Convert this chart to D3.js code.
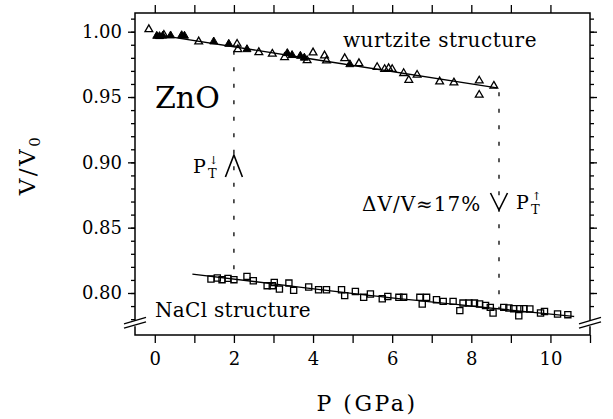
<!DOCTYPE html>
<html>
<head>
<meta charset="utf-8">
<script src="https://cdn.jsdelivr.net/npm/d3@7"></script>
<style>
  html, body { margin: 0; padding: 0; background: #fff; }
  svg { display: block; }
  text { font-family: "DejaVu Serif", serif; fill: #000; }
</style>
</head>
<body>
<svg width="613" height="419"></svg>
<script>
// wurtzite phase, open triangles [P (GPa), V/V0]
const wurtziteOpen = [
  [-0.15, 1.0018], [0.23, 0.9975], [1.11, 0.9924], [2.08, 0.9906], [2.10, 0.9865],
  [2.63, 0.9842], [2.97, 0.9830], [3.28, 0.9804], [3.85, 0.9780], [4.00, 0.9840],
  [4.29, 0.9817], [4.34, 0.9778], [4.80, 0.9796], [5.16, 0.9758], [5.62, 0.9728],
  [5.81, 0.9713], [5.91, 0.9720], [6.00, 0.9713], [6.29, 0.9682], [6.42, 0.9630],
  [6.63, 0.9669], [7.20, 0.9618], [7.56, 0.9610], [8.20, 0.9625], [8.20, 0.9516],
  [8.57, 0.9585]
];
// wurtzite phase, filled triangles
const wurtziteFilled = [
  [0.05, 0.9967], [0.12, 0.9965], [0.20, 0.9968], [0.40, 0.9970], [0.68, 0.9972],
  [0.75, 0.9968], [1.49, 0.9924], [1.87, 0.9906], [2.33, 0.9865], [3.35, 0.9835],
  [3.47, 0.9820], [3.68, 0.9814], [3.78, 0.9800], [4.93, 0.9750]
];
// rocksalt phase, open squares
const naclOpen = [
  [1.42, 0.8107], [1.58, 0.8115], [1.70, 0.8102], [1.85, 0.8112], [2.00, 0.8102],
  [2.33, 0.8127], [2.49, 0.8094], [2.84, 0.8056], [2.97, 0.8056], [3.02, 0.8081],
  [3.15, 0.8030], [3.39, 0.8076], [3.51, 0.8020], [3.89, 0.8046], [4.14, 0.8025],
  [4.34, 0.8025], [4.72, 0.8025], [4.80, 0.7980], [5.07, 0.8012], [5.28, 0.7967],
  [5.45, 0.7992], [5.75, 0.7956], [5.89, 0.7974], [6.17, 0.7967], [6.29, 0.7967],
  [6.70, 0.7967], [6.76, 0.7916], [6.87, 0.7967], [7.12, 0.7949], [7.29, 0.7936],
  [7.54, 0.7936], [7.71, 0.7865], [7.79, 0.7923], [7.94, 0.7923], [8.08, 0.7923],
  [8.21, 0.7916], [8.36, 0.7905], [8.48, 0.7890], [8.55, 0.7847], [8.82, 0.7890],
  [8.95, 0.7885], [9.07, 0.7880], [9.20, 0.7826], [9.22, 0.7880], [9.33, 0.7880],
  [9.48, 0.7878], [9.75, 0.7847], [9.85, 0.7859], [10.18, 0.7839], [10.44, 0.7834]
];
// fitted curves
const wurtziteFit = [[0.0, 0.9980], [4.0, 0.9789], [8.65, 0.9570]];
const naclFit = [[0.95, 0.8145], [3.0, 0.8070], [5.3, 0.7985], [8.0, 0.7900], [10.6, 0.7820]];
// transition pressures (down / up stroke)
const transitions = [2.0, 8.7];

const xLabels = [0, 2, 4, 6, 8, 10];
const yLabels = [0.80, 0.85, 0.90, 0.95, 1.00];

const svg = d3.select('svg');

const x = d3.scaleLinear().domain([-0.5, 11]).range([135, 590]);
const y = d3.scaleLinear().domain([0.80, 1.00]).range([293, 31.7]);

const x0 = x.range()[0], x1 = x.range()[1];
const frameTop = y(1.0143);
const breakY = y(0.7772);
const axisY = 335;

// frame (y axis is broken just above the P axis)
svg.append('path')
  .attr('d', `M${x0},${breakY - 2}V${frameTop}H${x1}V${breakY - 2}`)
  .attr('fill', 'none').attr('stroke', '#000').attr('stroke-width', 1.5);
svg.append('path')
  .attr('d', `M${x0},${breakY + 3.5}V${axisY}H${x1}V${breakY + 3.5}`)
  .attr('fill', 'none').attr('stroke', '#000').attr('stroke-width', 1.5);

// break marks
[x0, x1].forEach(cx => {
  [-2.2, 2.2].forEach(off => {
    svg.append('line')
      .attr('x1', cx - 11).attr('y1', breakY + off + 3.2)
      .attr('x2', cx + 11).attr('y2', breakY + off - 3.2)
      .attr('stroke', '#000').attr('stroke-width', 1.3);
  });
});

const yMinor = d3.range(78, 102).map(d => d / 100);
const styleAxis = g => {
  g.select('.domain').remove();
  g.selectAll('line').attr('stroke-width', 1.3);
  g.attr('font-family', '"DejaVu Serif", serif').attr('font-size', 18);
};

// left axis
svg.append('g').attr('transform', `translate(${x0},0)`)
  .call(d3.axisLeft(y).tickValues(yMinor).tickSize(4).tickFormat(''))
  .call(styleAxis);
svg.append('g').attr('transform', `translate(${x0},0)`)
  .call(d3.axisLeft(y).tickValues(yLabels).tickSize(7).tickPadding(6).tickFormat(d3.format('.2f')))
  .call(styleAxis);

// right axis
svg.append('g').attr('transform', `translate(${x1},0)`)
  .call(d3.axisRight(y).tickValues(yMinor.filter(d => d >= 0.79)).tickSize(4).tickFormat(''))
  .call(styleAxis);
svg.append('g').attr('transform', `translate(${x1},0)`)
  .call(d3.axisRight(y).tickValues(yLabels).tickSize(7).tickFormat(''))
  .call(styleAxis);

// top and bottom axes
svg.append('g').attr('transform', `translate(0,${frameTop})`)
  .call(d3.axisTop(x).tickValues(d3.range(0, 11)).tickSize(8).tickFormat(''))
  .call(styleAxis);
svg.append('g').attr('transform', `translate(0,${axisY})`)
  .call(d3.axisBottom(x).tickValues(d3.range(0, 12)).tickSize(8).tickPadding(9)
    .tickFormat(d => xLabels.includes(d) ? d : ''))
  .call(styleAxis);

// axis titles
svg.append('text')
  .attr('x', 367).attr('y', 411)
  .attr('text-anchor', 'middle')
  .attr('font-size', 22).attr('letter-spacing', 2.5)
  .text('P (GPa)');

const yTitle = svg.append('text')
  .attr('transform', 'translate(35,165) rotate(-90)')
  .attr('text-anchor', 'middle')
  .attr('fill', '#000')
  .attr('font-size', 23).attr('letter-spacing', 2.5);
yTitle.append('tspan').text('V/V');
yTitle.append('tspan').attr('font-size', 15).attr('dy', 5).text('0');

// transition dashed lines
const wFit = d3.scaleLinear().domain(wurtziteFit.map(d => d[0])).range(wurtziteFit.map(d => d[1]));
const nFit = d3.scaleLinear().domain(naclFit.map(d => d[0])).range(naclFit.map(d => d[1]));
transitions.forEach(p => {
  svg.append('line')
    .attr('x1', x(p)).attr('x2', x(p))
    .attr('y1', y(wFit(p)) + 4).attr('y2', y(nFit(p)))
    .attr('stroke', '#000').attr('stroke-width', 1.3)
    .attr('stroke-dasharray', '4,12.5');
});

// fit curves
const line = d3.line().x(d => x(d[0])).y(d => y(d[1])).curve(d3.curveMonotoneX);
[wurtziteFit, naclFit].forEach(fit => {
  svg.append('path').attr('d', line(fit))
    .attr('fill', 'none').attr('stroke', '#000').attr('stroke-width', 1.3);
});

// markers
const tri = d3.symbol(d3.symbolTriangle, 26);
const triFilled = d3.symbol(d3.symbolTriangle, 28);
const sq = d3.symbol(d3.symbolSquare, 38);

svg.append('g').selectAll('path').data(naclOpen).join('path')
  .attr('transform', d => `translate(${x(d[0])},${y(d[1])})`)
  .attr('d', sq).attr('fill', 'none').attr('stroke', '#000').attr('stroke-width', 1.3);
svg.append('g').selectAll('path').data(wurtziteOpen).join('path')
  .attr('transform', d => `translate(${x(d[0])},${y(d[1])})`)
  .attr('d', tri).attr('fill', 'none').attr('stroke', '#000').attr('stroke-width', 1.3);
svg.append('g').selectAll('path').data(wurtziteFilled).join('path')
  .attr('transform', d => `translate(${x(d[0])},${y(d[1])})`)
  .attr('d', triFilled).attr('fill', '#000').attr('stroke', '#000').attr('stroke-width', 1);

// labels
svg.append('text').attr('x', 155).attr('y', 108).attr('font-size', 30).text('ZnO');
svg.append('text').attr('x', 343).attr('y', 47).attr('font-size', 20).attr('letter-spacing', 0.5)
  .text('wurtzite structure');
svg.append('text').attr('x', 155).attr('y', 317).attr('font-size', 20).attr('letter-spacing', 0.3)
  .text('NaCl structure');
svg.append('text').attr('x', 362).attr('y', 211).attr('font-size', 20).attr('letter-spacing', 1)
  .text('ΔV/V≈17%');

// chevrons on the transition lines
const pDown = x(transitions[0]), pUp = x(transitions[1]);
svg.append('path').attr('d', `M${pDown - 8.5},177L${pDown},155L${pDown + 8.5},177`)
  .attr('fill', 'none').attr('stroke', '#000').attr('stroke-width', 1.6);
svg.append('path').attr('d', `M${pUp - 8.5},193L${pUp},210L${pUp + 8.5},193`)
  .attr('fill', 'none').attr('stroke', '#000').attr('stroke-width', 1.6);

// P_T with arrows
function ptLabel(px, base, arrow) {
  svg.append('text').attr('x', px).attr('y', base).attr('font-size', 19).text('P');
  svg.append('text').attr('x', px + 15).attr('y', base + 5).attr('font-size', 13).text('T');
  svg.append('text').attr('x', px + 16).attr('y', base - 9).attr('font-size', 11)
    .attr('font-family', '"DejaVu Sans", sans-serif').text(arrow);
}
ptLabel(193, 173, '↓');
ptLabel(516, 209, '↑');
</script>
</body>
</html>
